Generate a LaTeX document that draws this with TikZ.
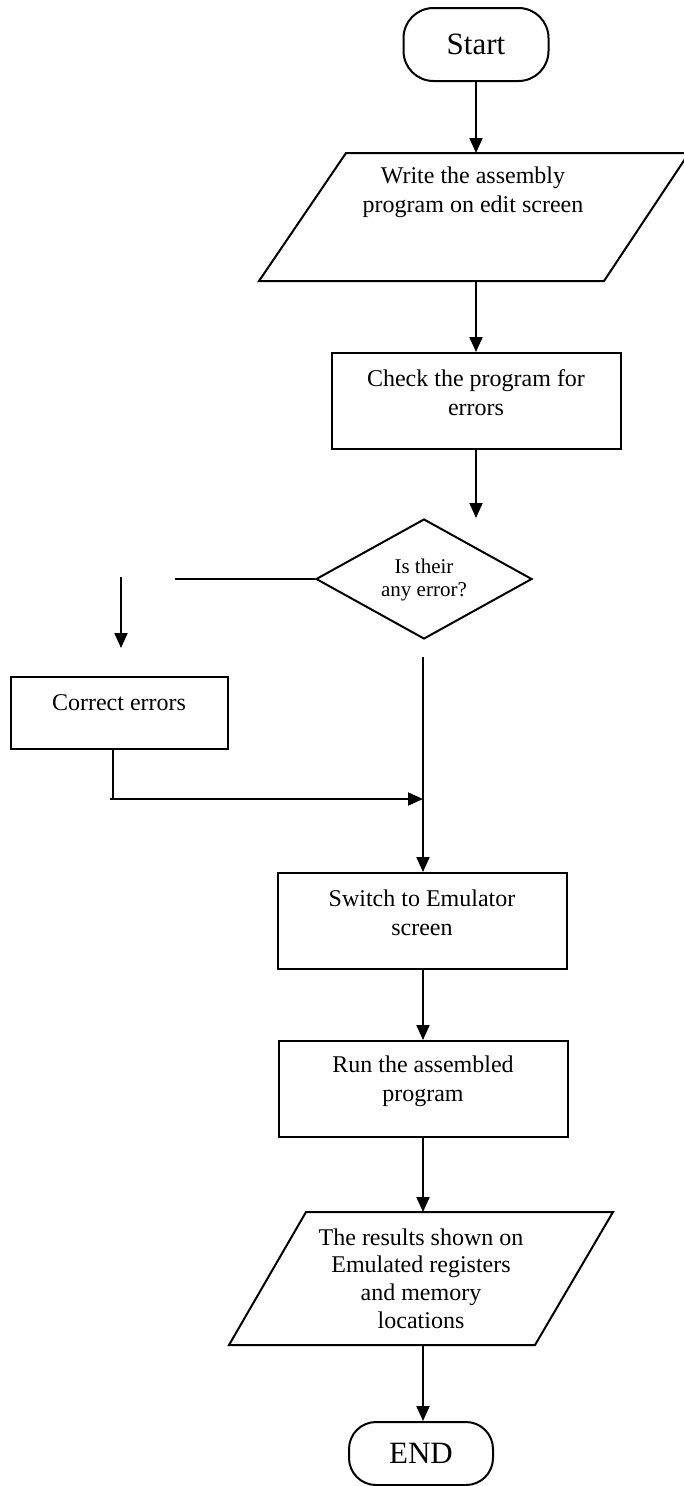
\documentclass[tikz,border=0pt]{standalone}
\usepackage{fontspec}
\setmainfont{Liberation Serif}
\usetikzlibrary{shapes.geometric,arrows.meta}
\begin{document}
\begin{tikzpicture}[x=1pt,y=-1pt,line width=2pt,
  arr/.style={-{Triangle[length=15pt,width=13pt]}},
  term/.style={draw,rounded corners=30pt,inner sep=0pt,font=\fontsize{31}{36}\selectfont},
  box/.style={draw,minimum width=289pt,minimum height=96pt,inner sep=0pt},
  ghost/.style={inner sep=0pt,outer sep=0pt,minimum width=1pt},
  txt/.style={align=center,inner sep=0pt,font=\fontsize{24}{29}\selectfont}]
\useasboundingbox[fill=white] (0,0) rectangle (683,1486);

% nodes
\node[term,minimum width=145pt,minimum height=73pt] (start) at (476,44.5) {Start};

\node[ghost,minimum height=128pt] (write) at (476,217) {};
\draw (346,153) -- (689,153) -- (604,281) -- (259,281) -- cycle;
\node[txt] (writeT) at (473,192.5) {Write the assembly\\program on edit screen};

\node[box] (check) at (476,401) {};
\node[txt] (checkT) at (476,393) {Check the program for\\errors};

\node[draw,diamond,minimum width=216pt,minimum height=120pt,inner sep=0pt] (dec) at (424,579) {};
\node[txt,font=\fontsize{21}{23.5}\selectfont] (decT) at (424,580) {Is their\\any error?};

\node[draw,minimum width=217pt,minimum height=72pt,inner sep=0pt] (correct) at (119.5,713) {};
\node[txt] (correctT) at (119,703) {Correct errors};

\node[box] (switch) at (422,921) {};
\node[txt] (switchT) at (422,912.5) {Switch to Emulator\\screen};

\node[box] (run) at (423.5,1089) {};
\node[txt] (runT) at (423,1081) {Run the assembled\\program};

\node[ghost,minimum height=133pt] (res) at (423,1278.5) {};
\draw (306,1212) -- (613,1212) -- (535,1345) -- (229,1345) -- cycle;
\node[txt,font=\fontsize{24}{27.7}\selectfont] (resT) at (421,1278.5) {The results shown on\\Emulated registers\\and memory\\locations};

\node[term,rounded corners=27pt,minimum width=144pt,minimum height=63pt] (end) at (421,1453.5) {END};

% free ends
\coordinate (decIn) at (476,518);
\coordinate (leftEnd) at (175,579);
\coordinate (dnA) at (121,577);
\coordinate (dnB) at (121,648);
\coordinate (vTop) at (423,657);
\coordinate (joinL) at (113,799);
\coordinate (joinR) at (423,799);

% connectors
\draw[arr] (start.south) -- (start.south |- write.north);
\draw[arr] (write.south) -- (write.south |- check.north);
\draw[arr] (check.south) -- (decIn);
\draw (dec.west) -- (leftEnd);
\draw[arr] (dnA) -- (dnB);
\draw[arr] (vTop) -- (vTop |- switch.north);
\draw (correct.south -| joinL) -- (joinL);
\draw[arr] ([xshift=-3pt]joinL) -- (joinR);
\draw[arr] (switch.south -| vTop) -- (vTop |- run.north);
\draw[arr] (run.south -| vTop) -- (vTop |- res.north);
\draw[arr] (res.south -| vTop) -- (vTop |- end.north);
\end{tikzpicture}
\end{document}
